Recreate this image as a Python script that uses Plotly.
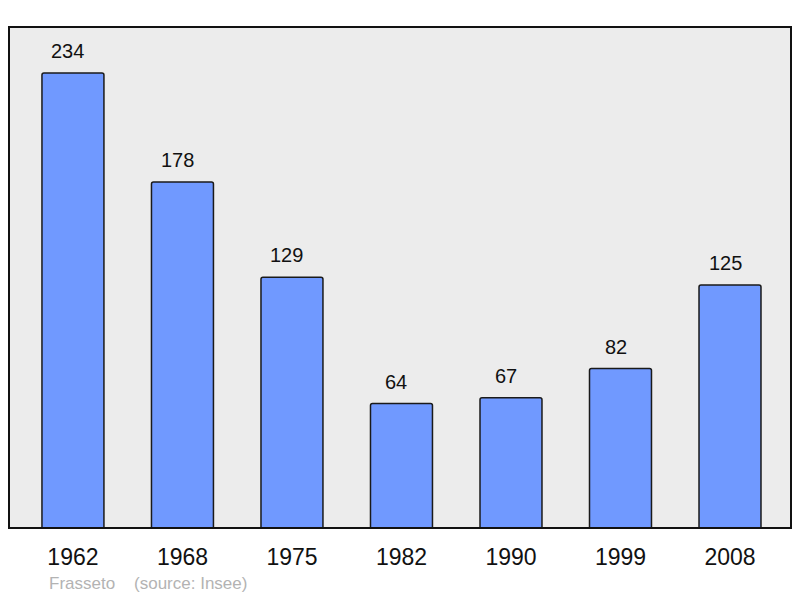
import plotly.graph_objects as go

years = ["1962", "1968", "1975", "1982", "1990", "1999", "2008"]
population = [234, 178, 129, 64, 67, 82, 125]

x_pos = list(range(len(years)))
FONT = "Liberation Sans, Arial, sans-serif"

fig = go.Figure()
fig.add_trace(go.Bar(
    x=x_pos, y=population, width=0.566,
    marker=dict(color="#7099ff", line=dict(color="#1a1a1a", width=1.5), cornerradius=2),
    hoverinfo="skip",
))
for xi, v in zip(x_pos, population):
    fig.add_annotation(x=xi, y=v, text=str(v), showarrow=False, yanchor="bottom",
                       yshift=9, xshift=-5, font=dict(family=FONT, size=20, color="#111"))

fig.add_annotation(xref="paper", yref="paper", x=(47 - 9) / 782, y=-55 / 501, xanchor="left",
                   yanchor="middle", showarrow=False, text="Frasseto&nbsp;&nbsp;&nbsp;&nbsp;(source: Insee)",
                   font=dict(family=FONT, size=17, color="#b3b3b3"))

fig.add_shape(type="rect", xref="paper", yref="paper", x0=0, y0=0, x1=1, y1=1,
              line=dict(color="#111", width=2), layer="above")

fig.update_layout(
    width=792, height=590,
    margin=dict(l=1, r=9, t=19, b=70),
    paper_bgcolor="white", plot_bgcolor="#ececec",
    showlegend=False,
    xaxis=dict(range=[-0.584, 6.557], tickvals=x_pos, ticktext=years, showgrid=False, zeroline=False,
               ticks="outside", ticklen=8, tickcolor="rgba(0,0,0,0)",
               tickfont=dict(family=FONT, size=23, color="#111"), fixedrange=True),
    yaxis=dict(range=[0, 257.7], showgrid=False, zeroline=False, showticklabels=False, fixedrange=True),
)

fig.write_html("out.html")
